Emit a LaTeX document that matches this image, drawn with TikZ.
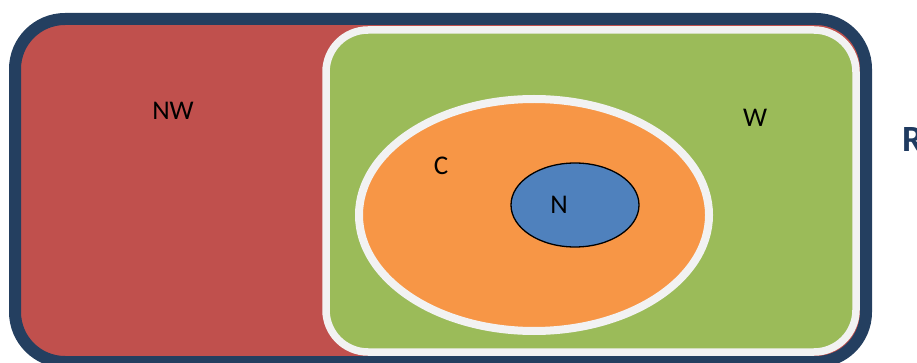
\documentclass[tikz,border=0pt]{standalone}
\usepackage{fontspec}
\setmainfont{Carlito}
\usetikzlibrary{shapes.geometric}
\definecolor{setred}{HTML}{C0504D}
\definecolor{setgreen}{HTML}{9BBB59}
\definecolor{setorange}{HTML}{F79646}
\definecolor{setblue}{HTML}{4F81BD}
\definecolor{frameblue}{HTML}{243F60}
\definecolor{rimwhite}{HTML}{F2F2F2}
\definecolor{titleblue}{HTML}{1F3A60}
\begin{document}
\begin{tikzpicture}[x=1pt,y=-1pt,
  setbox/.style={rectangle,inner sep=0pt,outer sep=0pt},
  setoval/.style={ellipse,inner sep=0pt,outer sep=0pt},
  lbl/.style={inner sep=0pt,outer sep=0pt,font=\fontsize{27}{27}\selectfont,text=black}]
\useasboundingbox (0,0) rectangle (917,363);
\node[setbox,fill=setred,draw=frameblue,line width=12pt,rounded corners=50pt,
  minimum width=851pt,minimum height=343pt] (R) at (440.5,190.5) {};
\node[setbox,fill=setgreen,draw=rimwhite,line width=7.5pt,rounded corners=42pt,
  minimum width=530pt,minimum height=322pt] (W) at (591,191) {};
\node[setoval,fill=setorange,draw=rimwhite,line width=8pt,
  minimum width=350pt,minimum height=232pt] (C) at (534,215) {};
\node[setoval,fill=setblue,draw=black,line width=1.3pt,
  minimum width=128pt,minimum height=84pt] (N) at (575,205) {};
\node[lbl] (nwlabel) at (173,111) {NW};
\node[lbl] (wlabel) at (755,118) {W};
\node[lbl] (clabel) at (441,166) {C};
\node[lbl] (nlabel) at (559,205) {N};
\node[inner sep=0pt,outer sep=0pt,anchor=west,text=titleblue,
  font=\fontsize{37}{37}\selectfont\bfseries] (rlabel) at (902,140) {R};
\end{tikzpicture}
\end{document}
